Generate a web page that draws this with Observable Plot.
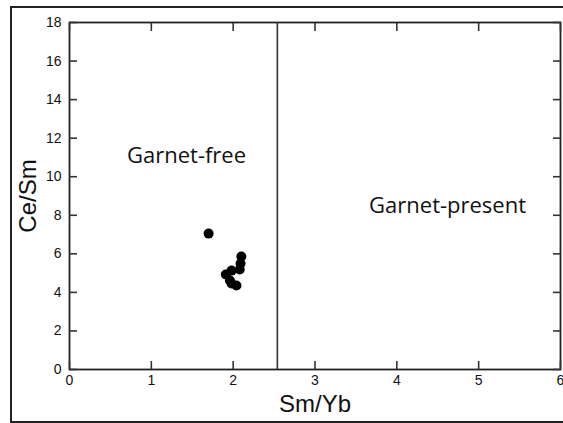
<!DOCTYPE html>
<html>
<head>
<meta charset="utf-8">
<script src="https://cdn.jsdelivr.net/npm/d3@7"></script>
<script src="https://cdn.jsdelivr.net/npm/@observablehq/plot@0.6"></script>
<style>
  html, body { margin: 0; padding: 0; background: #fff; overflow: hidden; }
  #wrap { position: relative; width: 563px; height: 423px; overflow: hidden; }
  #border { position: absolute; left: 10px; top: 6px; width: 560px; height: 413px; border: 2px solid #222; pointer-events: none; }
  #chart svg { display: block; }
  #chart [aria-label="x-axis label"] text, #chart [aria-label="y-axis label"] text { font-size: 24px; font-weight: normal; fill: #111; }
</style>
</head>
<body>
<div id="wrap"><div id="chart"></div><div id="border"></div></div>
<script>
// Data
const smYb = [1.70, 2.10, 2.09, 2.08, 1.98, 1.91, 1.96, 1.98, 2.04];
const ceSm = [7.05, 5.86, 5.50, 5.19, 5.13, 4.93, 4.62, 4.46, 4.36];
const xTicks = [0, 1, 2, 3, 4, 5, 6];
const yTicks = [0, 2, 4, 6, 8, 10, 12, 14, 16, 18];
const boundary = [2.54];
const regionNames = ["Garnet-free", "Garnet-present"];
const regionX = [1.43, 4.62];
const regionY = [11.1, 8.5];

const points = smYb.map((x, i) => ({x, y: ceSm[i]}));
const regions = regionNames.map((name, i) => ({name, x: regionX[i], y: regionY[i]}));

const chart = Plot.plot({
  width: 563,
  height: 423,
  marginLeft: 69,
  marginRight: 3,
  marginTop: 22,
  marginBottom: 54,
  style: {fontFamily: "Liberation Sans, Arial, sans-serif", fontSize: "14px", color: "#111", background: "#fff"},
  x: {domain: [0, 6]},
  y: {domain: [0, 18]},
  marks: [
    Plot.frame({stroke: "#222", strokeWidth: 1.8}),
    Plot.ruleX(boundary, {stroke: "#333", strokeWidth: 1.6}),
    Plot.axisX(xTicks, {anchor: "bottom", tickSize: -8, tickPadding: 14, strokeWidth: 1.6, stroke: "#333", fill: "#111", label: "Sm/Yb", labelAnchor: "center", labelArrow: "none", labelOffset: 42}),
    Plot.axisX(xTicks, {anchor: "top", tickSize: -8, strokeWidth: 1.6, stroke: "#333", tickFormat: () => "", label: null}),
    Plot.axisY(yTicks, {anchor: "left", tickSize: -8, tickPadding: 16, strokeWidth: 1.6, stroke: "#333", fill: "#111", label: "Ce/Sm", labelAnchor: "center", labelArrow: "none", labelOffset: 51}),
    Plot.axisY(yTicks, {anchor: "right", tickSize: -8, strokeWidth: 1.6, stroke: "#333", tickFormat: () => "", label: null}),
    Plot.dot(points, {x: "x", y: "y", r: 5, fill: "#000", stroke: "none"}),
    Plot.text(regions, {x: "x", y: "y", text: "name", fontSize: 22, fontFamily: "Open Sans, Noto Sans, sans-serif", fill: "#111", textAnchor: "middle"})
  ]
});
document.getElementById("chart").appendChild(chart);
</script>
</body>
</html>
